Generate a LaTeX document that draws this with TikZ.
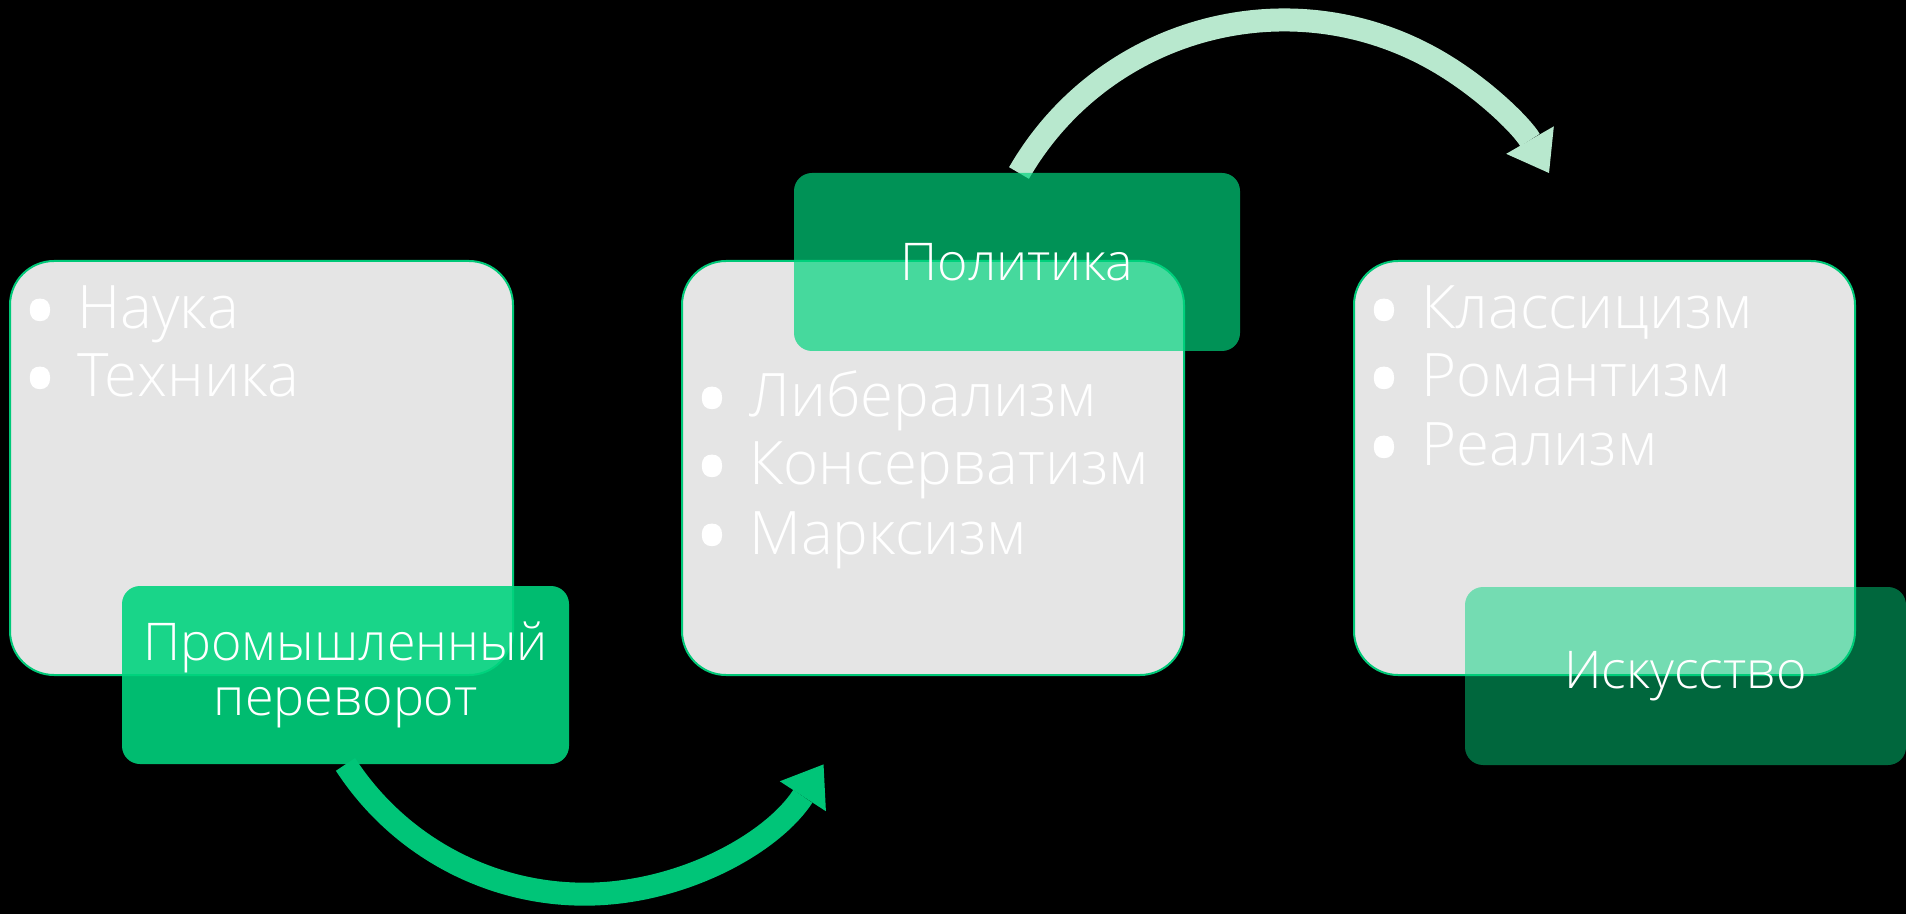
\documentclass[tikz,border=0pt]{standalone}
\usepackage{fontspec}
\IfFontExistsTF{Open Sans Light}{\setmainfont{Open Sans Light}}{\setmainfont{Open Sans}}
\newfontfamily\bulfont{Open Sans}[FakeBold=1.5]
\usetikzlibrary{arrows.meta}
\definecolor{grayfill}{RGB}{229,229,229}
\definecolor{edgegreen}{RGB}{0,200,120}
\definecolor{basegreen}{RGB}{0,212,126}
\definecolor{arrowA}{RGB}{0,197,120}
\definecolor{arrowB}{RGB}{184,232,206}
\newcommand{\bul}{\makebox[24.5pt][l]{\hspace{-2.5pt}\raisebox{-6.5pt}[0pt][0pt]{\bulfont\fontsize{44}{44}\selectfont •}}}
\begin{document}
\begin{tikzpicture}[x=0.5pt,y=-0.5pt,
  graybox/.style={draw=edgegreen, line width=1pt, fill=grayfill, rounded corners=22pt, inner sep=0pt, minimum height=207pt},
  tagbox/.style={fill=basegreen, rounded corners=9pt, inner sep=0pt, text=white, text opacity=1, align=center, minimum height=89pt, font=\fontsize{26}{27.5}\selectfont},
  item/.style={anchor=base west, inner sep=0pt, text=white, font=\fontsize{30}{34}\selectfont},
  flow/.style={line width=11.5pt, -{Triangle[length=19pt,width=27.5pt,line width=0pt]}}
]
\fill[black] (0,0) rectangle (1906,914);
\useasboundingbox (0,0) rectangle (1906,914);

% gray content boxes
\node[graybox, minimum width=251.5pt] (g1) at (261.5,468) {};
\node[graybox, minimum width=251pt] (g2) at (933,468) {};
\node[graybox, minimum width=250.5pt] (g3) at (1604.5,468) {};

% lists
\node[item] (i11) at (28,329) {\bul Наука};
\node[item] (i12) at (28,397) {\bul Техника};
\node[item] (i21) at (700,417) {\bul Либерализм};
\node[item] (i22) at (700,485) {\bul Консерватизм};
\node[item] (i23) at (700,554) {\bul Марксизм};
\node[item] (i31) at (1372,329) {\bul Классицизм};
\node[item] (i32) at (1372,397) {\bul Романтизм};
\node[item] (i33) at (1372,466) {\bul Реализм};

% upper arrow (under the Politika tag)
\coordinate (a2s) at (1019,173);
\draw[flow, arrowB] (a2s) arc[start angle=210, end angle=330, radius=306];

% tags
\node[tagbox, fill opacity=0.89, minimum width=223.5pt] (t1) at (345.5,675) {Промышленный\\переворот};
\node[tagbox, fill opacity=0.69, minimum width=223pt] (t2) at (1017,262) {Политика};
\node[tagbox, fill opacity=0.49, minimum width=220.5pt, minimum height=89pt] (t3) at (1685.5,676) {Искусство};

% lower arrow
\draw[flow, arrowA] (t1.south) arc[start angle=147, end angle=33, radius=285];
\end{tikzpicture}
\end{document}
